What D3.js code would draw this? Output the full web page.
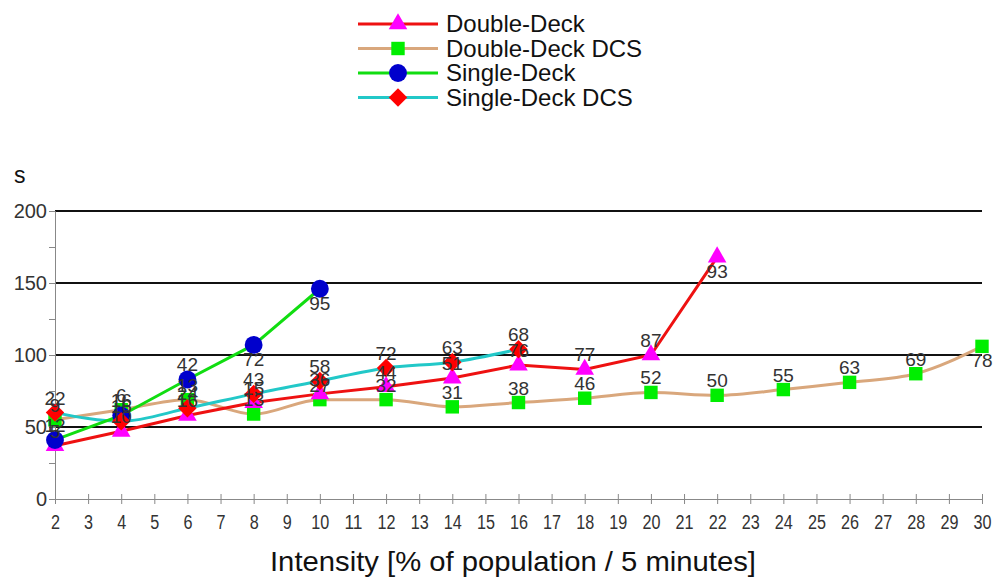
<!DOCTYPE html>
<html>
<head>
<meta charset="utf-8">
<script src="https://cdn.jsdelivr.net/npm/d3@7"></script>
<style>
  body { margin: 0; background: #fff; }
  text { font-family: "Liberation Sans", Arial, sans-serif; }
</style>
</head>
<body>
<div class="sandbox" style="width:994px;height:577px"></div>
<script>
// values (seconds), labels are the small numbers printed by each point
var xTicks = d3.range(2, 31);
var yTicks = [0, 50, 100, 150, 200];

var ddX = [2, 4, 6, 8, 10, 12, 14, 16, 18, 20, 22];
var ddY = [37, 47, 58, 67, 73, 78, 84, 93, 90, 100, 168];
var ddLab = ["5", "10", "16", "15", "36", "44", "51", "76", "77", "87", "93"];

var ddcsX = [2, 4, 6, 8, 10, 12, 14, 16, 18, 20, 22, 24, 26, 28, 30];
var ddcsY = [55, 62, 69, 59, 69, 69, 64, 67, 70, 74, 72, 76, 81, 87, 106];
var ddcsLab = ["9", "6", "13", "13", "27", "32", "31", "38", "46", "52", "50", "55", "63", "69", "78"];

var sdX = [2, 4, 6, 8, 10];
var sdY = [41, 58, 83, 107, 146];
var sdLab = ["12", "16", "42", "72", "95"];

var sdcsX = [2, 4, 6, 8, 10, 12, 14, 16];
var sdcsY = [60, 54, 63, 73, 82, 91, 95, 104];
var sdcsLab = ["22", "16", "24", "43", "58", "72", "63", "68"];

var w = 994, h = 577;
var svg = d3.select(".sandbox").append("svg").attr("width", w).attr("height", h);

var x = d3.scaleLinear().domain([2, 30]).range([55, 982]);
var y = d3.scaleLinear().domain([0, 200]).range([499, 211]);

// gridlines
svg.append("g")
  .selectAll("line")
  .data(yTicks.filter(d => d > 0))
  .enter()
  .append("line")
  .attr("x1", x(2)).attr("x2", x(30))
  .attr("y1", d => y(d)).attr("y2", d => y(d))
  .attr("stroke", "#111").attr("stroke-width", 2);

// y axis
var yAxis = d3.axisLeft(y).tickValues(d3.range(0, 201, 25)).tickSize(6)
  .tickFormat(d => (d % 50 === 0 ? d : ""));
var gy = svg.append("g").attr("transform", "translate(" + x(2) + ",0)").call(yAxis);
gy.select(".domain").attr("stroke", "#888");
gy.selectAll(".tick line").attr("stroke", "#888");
gy.selectAll(".tick text").style("font-size", "20px").attr("fill", "#333").attr("x", -8)
  .style("font-family", "Liberation Sans, Arial, sans-serif");

// x axis
var xAxis = d3.axisBottom(x).tickValues(xTicks).tickSize(5).tickFormat(d3.format("d"));
var gx = svg.append("g").attr("transform", "translate(0," + y(0) + ")").call(xAxis);
gx.select(".domain").attr("stroke", "#888");
gx.selectAll(".tick line").attr("stroke", "#888").attr("y1", -5);
gx.selectAll(".tick text").style("font-size", "20px").attr("fill", "#333").attr("y", 16)
  .style("font-family", "Liberation Sans, Arial, sans-serif")
  .attr("textLength", d => (d < 10 ? 9 : 18)).attr("lengthAdjust", "spacingAndGlyphs");

svg.append("text").attr("x", 14).attr("y", 183).attr("font-size", 23).attr("fill", "#111").text("s");
svg.append("text").attr("x", 513).attr("y", 571).attr("text-anchor", "middle")
  .attr("font-size", 28).attr("fill", "#111")
  .attr("textLength", 486).attr("lengthAdjust", "spacingAndGlyphs")
  .text("Intensity [% of population / 5 minutes]");

var diamond = { draw: function(ctx, size) {
  var r = Math.sqrt(size / 2);
  ctx.moveTo(0, -r); ctx.lineTo(r, 0); ctx.lineTo(0, r); ctx.lineTo(-r, 0); ctx.closePath();
} };

var series = [
  { key: "ddcs", name: "Double-Deck DCS", xs: ddcsX, ys: ddcsY, lab: ddcsLab, line: "#d9a77c", fill: "#00ee00", shape: d3.symbolSquare, size: 180, curve: d3.curveMonotoneX },
  { key: "sdcs", name: "Single-Deck DCS", xs: sdcsX, ys: sdcsY, lab: sdcsLab, line: "#22c8c8", fill: "#ff0000", shape: diamond, size: 170, curve: d3.curveMonotoneX },
  { key: "sd", name: "Single-Deck", xs: sdX, ys: sdY, lab: sdLab, line: "#11dd11", fill: "#0000cc", shape: d3.symbolCircle, size: 250, curve: d3.curveLinear },
  { key: "dd", name: "Double-Deck", xs: ddX, ys: ddY, lab: ddLab, line: "#ee1111", fill: "#ff00ff", shape: d3.symbolTriangle, size: 150, curve: d3.curveLinear }
];
var below = { "sd-8": 1, "sd-10": 1, "dd-22": 1, "ddcs-30": 1 };

series.forEach(s => {
  var pts = s.xs.map((v, i) => [v, s.ys[i]]);
  svg.append("path")
    .datum(pts)
    .attr("fill", "none")
    .attr("stroke", s.line)
    .attr("stroke-width", 3)
    .attr("d", d3.line().x(d => x(d[0])).y(d => y(d[1])).curve(s.curve));
});

["ddcs", "dd", "sd", "sdcs"].forEach(k => {
  var s = series.find(d => d.key === k);
  svg.append("g")
    .selectAll("path")
    .data(s.xs.map((v, i) => [v, s.ys[i]]))
    .enter()
    .append("path")
    .attr("transform", d => "translate(" + x(d[0]) + "," + y(d[1]) + ")")
    .attr("d", d3.symbol().type(s.shape).size(s.size))
    .attr("fill", s.fill);
});

series.forEach(s => {
  svg.append("g")
    .selectAll("text")
    .data(s.xs.map((v, i) => [v, s.ys[i], s.lab[i]]))
    .enter()
    .append("text")
    .attr("x", d => x(d[0]))
    .attr("y", d => y(d[1]) + (below[s.key + "-" + d[0]] ? 21 : -8))
    .attr("text-anchor", "middle")
    .attr("font-size", 19)
    .attr("fill", "#333")
    .text(d => d[2]);
});

// legend
var legOrder = ["dd", "ddcs", "sd", "sdcs"];
var lg = svg.append("g").attr("transform", "translate(358,24)");
legOrder.forEach((k, i) => {
  var s = series.find(d => d.key === k);
  var g = lg.append("g").attr("transform", "translate(0," + i * 24.5 + ")");
  g.append("line").attr("x1", 0).attr("x2", 80).attr("stroke", s.line).attr("stroke-width", 3);
  g.append("path").attr("transform", "translate(40,0)")
    .attr("d", d3.symbol().type(s.shape).size(s.size)).attr("fill", s.fill);
  g.append("text").attr("x", 88).attr("y", 8).attr("font-size", 24).attr("fill", "#111").text(s.name);
});
</script>
</body>
</html>
